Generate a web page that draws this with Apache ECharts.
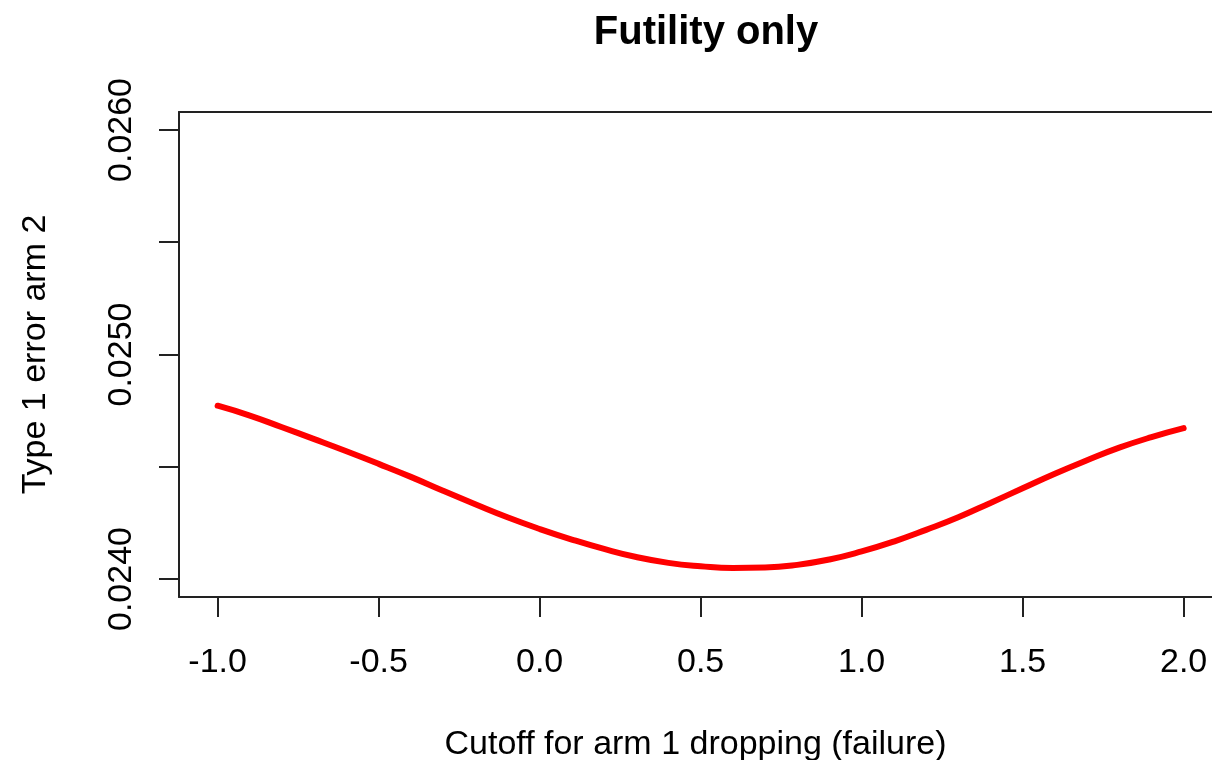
<!DOCTYPE html>
<html>
<head>
<meta charset="utf-8">
<title>Futility only</title>
<script src="https://cdn.jsdelivr.net/npm/echarts@6/dist/echarts.min.js"></script>
<style>
  html, body { margin: 0; padding: 0; background: #ffffff; }
  #chart { width: 1212px; height: 760px; }
</style>
</head>
<body>
<div id="chart"></div>
<script>
// Cutoff values for dropping arm 1 (failure boundary)
const cutoffs = [-1.0, -0.9, -0.8, -0.7, -0.6, -0.5, -0.4, -0.3, -0.2, -0.1,
                 0.0, 0.1, 0.2, 0.3, 0.4, 0.5, 0.6, 0.7, 0.8, 0.9,
                 1.0, 1.1, 1.2, 1.3, 1.4, 1.5, 1.6, 1.7, 1.8, 1.9, 2.0];

// Type 1 error of arm 2 at each cutoff
const type1Error = [0.024772, 0.024728, 0.024676, 0.024623, 0.024569, 0.024513,
                    0.024455, 0.024393, 0.024333, 0.024275, 0.024223, 0.024176,
                    0.024134, 0.024098, 0.024072, 0.024057, 0.024049, 0.024051,
                    0.024063, 0.024087, 0.024123, 0.024167, 0.024219, 0.024275,
                    0.024339, 0.024404, 0.024469, 0.024529, 0.024585, 0.024632,
                    0.024672];

// Axis ticks and labels
const xTicks = [-1.0, -0.5, 0.0, 0.5, 1.0, 1.5, 2.0];
const yTicks = [0.0240, 0.0245, 0.0250, 0.0255, 0.0260];
const yLabels = [0.0240, 0.0250, 0.0260];

const FONT = '"Liberation Sans", Arial, Helvetica, sans-serif';
const INK = '#000000';
const LINE = '#222222';

// The plot box runs past the right edge of the canvas: -1.12 sits on the
// left border and 322 px span one unit, so the visible part ends near 2.088.
const X_MIN = -1.12;
const X_MAX = X_MIN + 1033 / 322;

const chart = echarts.init(document.getElementById('chart'), null, { renderer: 'canvas' });

chart.setOption({
  backgroundColor: '#ffffff',
  animation: false,
  title: {
    text: 'Futility only',
    left: 701,
    textAlign: 'center',
    top: 8,
    textStyle: { fontFamily: FONT, fontSize: 40, fontWeight: 'bold', color: INK }
  },
  grid: {
    left: 179,
    top: 112,
    right: 0,
    bottom: 163,
    outerBoundsMode: 'none',
    containLabel: false,
    show: false
  },
  xAxis: [{
    type: 'value',
    position: 'bottom',
    min: X_MIN,
    max: X_MAX,
    name: 'Cutoff for arm 1 dropping (failure)',
    nameLocation: 'middle',
    nameGap: 131,
    nameTextStyle: { fontFamily: FONT, fontSize: 34, color: INK },
    axisLine: { show: true, onZero: false, lineStyle: { color: LINE, width: 2 } },
    splitLine: { show: false },
    axisTick: {
      show: true,
      inside: false,
      length: 20,
      customValues: xTicks,
      lineStyle: { color: LINE, width: 2 }
    },
    axisLabel: {
      show: true,
      margin: 49,
      customValues: xTicks,
      fontFamily: FONT,
      fontSize: 34,
      color: INK,
      formatter: v => v.toFixed(1)
    }
  }, {
    // top edge of the plot box
    type: 'value',
    position: 'top',
    min: X_MIN,
    max: X_MAX,
    axisLine: { show: true, onZero: false, lineStyle: { color: LINE, width: 2 } },
    axisTick: { show: false },
    axisLabel: { show: false },
    splitLine: { show: false }
  }],
  yAxis: {
    type: 'value',
    position: 'left',
    min: 0.02392,
    max: 0.02608,
    name: 'Type 1 error arm 2',
    nameLocation: 'middle',
    nameGap: 126,
    nameTextStyle: { fontFamily: FONT, fontSize: 34, color: INK },
    axisLine: { show: true, onZero: false, lineStyle: { color: LINE, width: 2 } },
    splitLine: { show: false },
    axisTick: {
      show: true,
      inside: false,
      length: 20,
      customValues: yTicks,
      lineStyle: { color: LINE, width: 2 }
    },
    axisLabel: {
      show: true,
      rotate: 90,
      margin: 40,
      customValues: yLabels,
      fontFamily: FONT,
      fontSize: 34,
      color: INK,
      formatter: v => v.toFixed(4)
    }
  },
  series: [{
    type: 'line',
    xAxisIndex: 0,
    data: cutoffs.map((c, i) => [c, type1Error[i]]),
    smooth: true,
    showSymbol: false,
    lineStyle: { color: '#ff0000', width: 6, cap: 'round' }
  }]
});
</script>
</body>
</html>
